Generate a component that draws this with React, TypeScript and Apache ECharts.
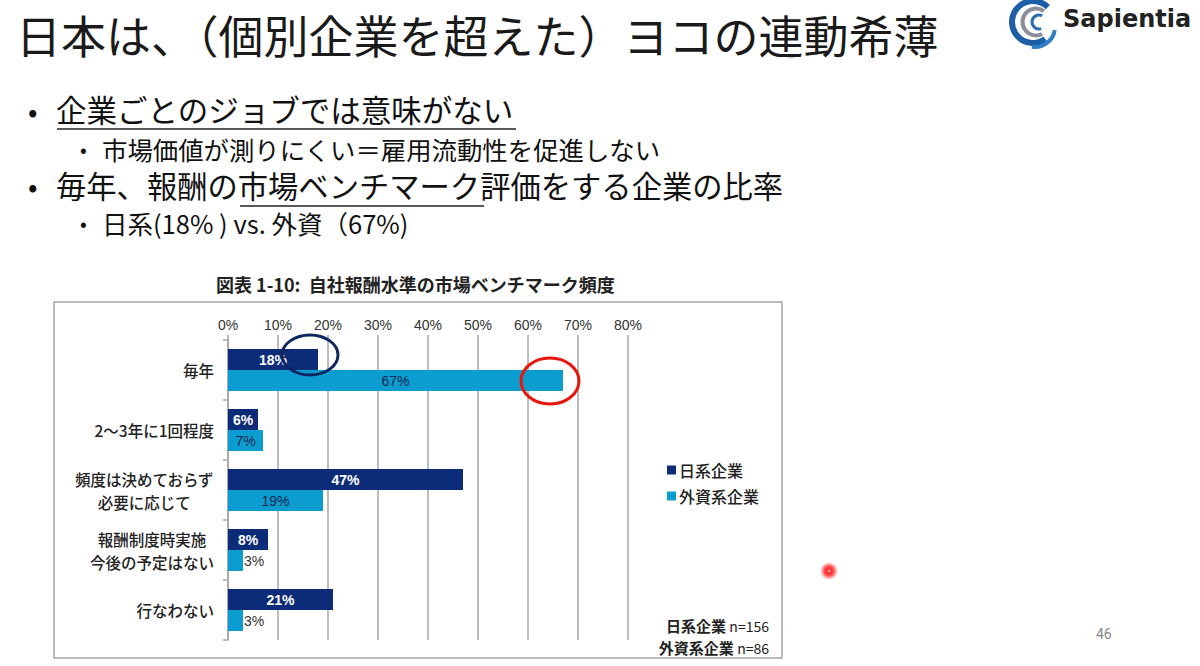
import React, { useEffect, useRef } from "react";
import * as echarts from "echarts";

const categories = [
  "毎年",
  "2～3年に1回程度",
  "頻度は決めておらず\n必要に応じて",
  "報酬制度時実施\n今後の予定はない",
  "行なわない",
];
const japanValues = [18, 6, 47, 8, 21];
const foreignValues = [67, 7, 19, 3, 3];
const seriesNames = ["日系企業", "外資系企業"];
const sampleSizes = [156, 86];
const xTicks = [0, 10, 20, 30, 40, 50, 60, 70, 80];

const JP = "'Noto Sans CJK JP', 'Noto Sans', sans-serif";
const NARROW = "'Liberation Sans Narrow', 'Liberation Sans', Arial, sans-serif";
const DARK = "#0d2c78";
const LIGHT = "#0b9dd0";

export default function App() {
  const ref = useRef<HTMLDivElement>(null);
  useEffect(() => {
    if (!ref.current) return;
    const chart = echarts.init(ref.current, null, { renderer: "svg" });

    const barItem = (v: number, inColor: string, bold: boolean) => ({
      value: v,
      label:
        v <= 4
          ? { position: "right", distance: 1, color: "#333", fontWeight: "normal" }
          : { position: "inside", color: inColor, fontWeight: bold ? "bold" : "normal" },
    });

    const noteText = (i: number) => ({
      type: "text",
      right: 1200 - 769,
      top: i === 0 ? 618 : 640,
      style: {
        text: `{a|${seriesNames[i]}} {b|n=${sampleSizes[i]}}`,
        align: "right",
        rich: {
          a: { font: `bold 15px ${JP}`, fill: "#222" },
          b: { font: `14px ${JP}`, fill: "#222" },
        },
      },
    });

    const staticGraphics: any[] = [
      // Title
      {
        type: "text",
        left: 16,
        top: 12,
        style: {
          text: "日本は、（個別企業を超えた）ヨコの連動希薄",
          font: `normal 45px ${JP}`,
          fill: "#1a1a1a",
        },
      },
      // logo
      {
        type: "group",
        children: [
          { type: "arc", shape: { cx: 1033, cy: 22, r: 21, startAngle: Math.PI * 0.3, endAngle: Math.PI * 1.75 }, style: { stroke: "#1d5fa6", lineWidth: 6, fill: null } },
          { type: "arc", shape: { cx: 1036, cy: 22, r: 13.5, startAngle: Math.PI * 0.35, endAngle: Math.PI * 1.7 }, style: { stroke: "#8a8f99", lineWidth: 4, fill: null } },
          { type: "arc", shape: { cx: 1039, cy: 22, r: 7, startAngle: Math.PI * 0.4, endAngle: Math.PI * 1.65 }, style: { stroke: "#2a6db3", lineWidth: 3, fill: null } },
          { type: "arc", shape: { cx: 1035, cy: 27, r: 20, startAngle: Math.PI * 0.05, endAngle: Math.PI * 0.55 }, style: { stroke: "#2f7fc4", lineWidth: 4, fill: null } },
          {
            type: "text",
            left: 1063,
            top: 7,
            style: { text: "Sapientia", font: `bold 24px 'DejaVu Sans', sans-serif`, fill: "#222" },
          },
        ],
      },
      // Bullets
      { type: "text", left: 28, top: 96, style: { text: "•", font: `28px ${JP}`, fill: "#111" } },
      { type: "text", left: 56, top: 94, style: { text: "企業ごとのジョブでは意味がない", font: `30.5px ${JP}`, fill: "#111" } },
      { type: "line", shape: { x1: 57, y1: 129, x2: 516, y2: 129 }, style: { stroke: "#222", lineWidth: 1.5 } },
      { type: "text", left: 80, top: 138, style: { text: "•", font: `20px ${JP}`, fill: "#111" } },
      { type: "text", left: 102, top: 136, style: { text: "市場価値が測りにくい＝雇用流動性を促進しない", font: `25.4px ${JP}`, fill: "#111" } },
      { type: "text", left: 28, top: 171, style: { text: "•", font: `28px ${JP}`, fill: "#111" } },
      { type: "text", left: 56, top: 170, style: { text: "毎年、報酬の市場ベンチマーク評価をする企業の比率", font: `30.3px ${JP}`, fill: "#111" } },
      { type: "line", shape: { x1: 240, y1: 206, x2: 484, y2: 206 }, style: { stroke: "#222", lineWidth: 1.5 } },
      { type: "text", left: 80, top: 212, style: { text: "•", font: `20px ${JP}`, fill: "#111" } },
      { type: "text", left: 102, top: 210, style: { text: "日系(18% ) vs. 外資（67%)", font: `25.5px ${JP}`, fill: "#111" } },
      // chart title
      {
        type: "text",
        left: 216,
        top: 275,
        style: { text: "図表 1-10:  自社報酬水準の市場ベンチマーク頻度", font: `bold 18px ${JP}`, fill: "#222" },
      },
      // chart box
      {
        type: "rect",
        shape: { x: 54, y: 302, width: 728, height: 356 },
        style: { fill: null, stroke: "#a6a6a6", lineWidth: 1.5 },
        z: -1,
      },
      // notes
      noteText(0),
      noteText(1),
      // pointer dot
      {
        type: "circle",
        shape: { cx: 829, cy: 571, r: 9 },
        style: {
          fill: new echarts.graphic.RadialGradient(0.5, 0.5, 0.5, [
            { offset: 0, color: "rgba(255,255,255,1)" },
            { offset: 0.2, color: "rgba(255,40,40,1)" },
            { offset: 0.55, color: "rgba(255,40,40,0.8)" },
            { offset: 1, color: "rgba(255,60,60,0)" },
          ]),
        },
      },
      // page number
      { type: "text", left: 1096, top: 627, style: { text: "46", font: `14px 'Roboto', sans-serif`, fill: "#888" } },
    ];

    chart.setOption({
      animation: false,
      backgroundColor: "#fff",
      grid: { left: 228, right: 572, top: 340, bottom: 26, containLabel: false },
      legend: {
        orient: "vertical",
        left: 662,
        top: 457,
        itemWidth: 9,
        itemHeight: 9,
        itemGap: 10,
        icon: "rect",
        data: seriesNames,
        textStyle: { fontFamily: JP, fontSize: 16, fontWeight: 500, color: "#222", padding: [0, 0, 0, -2] },
      },
      xAxis: {
        type: "value",
        position: "top",
        min: 0,
        max: 80,
        interval: 10,
        axisLine: { show: false },
        axisTick: { show: true, length: 5, lineStyle: { color: "#a6a6a6", width: 1.5 } },
        splitLine: { show: true, lineStyle: { color: "#a6a6a6", width: 1.5 } },
        axisLabel: {
          formatter: (v: number) => (xTicks.includes(v) ? `${v}%` : ""),
          fontFamily: NARROW,
          fontSize: 14,
          color: "#333",
          margin: 8,
        },
      },
      yAxis: {
        type: "category",
        inverse: true,
        data: categories,
        axisLine: { show: true, lineStyle: { color: "#a6a6a6", width: 1.5 } },
        axisTick: { show: true, length: 5, lineStyle: { color: "#a6a6a6", width: 1.5 } },
        axisLabel: {
          margin: 14,
          formatter: (v: string) =>
            v
              .split("\n")
              .map((l) => `{c|${l}}`)
              .join("\n"),
          rich: {
            c: { align: "center", fontFamily: JP, fontSize: 15.5, fontWeight: 500, color: "#222", lineHeight: 23 },
          },
        },
      },
      series: [
        {
          name: seriesNames[0],
          type: "bar",
          data: japanValues.map((v) => barItem(v, "#fff", true)),
          itemStyle: { color: DARK },
          barWidth: 21,
          barGap: "0%",
          label: { show: true, formatter: "{c}%", fontFamily: NARROW, fontSize: 14 },
        },
        {
          name: seriesNames[1],
          type: "bar",
          data: foreignValues.map((v) => barItem(v, "#13254f", false)),
          itemStyle: { color: LIGHT },
          barWidth: 21,
          barGap: "0%",
          label: { show: true, formatter: "{c}%", fontFamily: NARROW, fontSize: 14 },
        },
      ],
      graphic: staticGraphics,
    });

    // annotation ellipses at the 毎年 bar ends
    const p18 = chart.convertToPixel({ gridIndex: 0 }, [japanValues[0], 0]) as number[];
    const p67 = chart.convertToPixel({ gridIndex: 0 }, [foreignValues[0], 0]) as number[];
    chart.setOption({
      graphic: [
        ...staticGraphics,
        {
          type: "ellipse",
          shape: { cx: p18[0] - 8, cy: p18[1] - 15, rx: 28, ry: 20 },
          style: { fill: null, stroke: "#0e2660", lineWidth: 3 },
          z: 100,
        },
        {
          type: "ellipse",
          shape: { cx: p67[0] - 13, cy: p67[1] + 11, rx: 29, ry: 23 },
          style: { fill: null, stroke: "#e8160c", lineWidth: 3 },
          z: 100,
        },
      ],
    }, { replaceMerge: ["graphic"] });

    return () => chart.dispose();
  }, []);
  return <div ref={ref} style={{ position: "absolute", left: 0, top: 0, width: 1200, height: 666 }} />;
}
